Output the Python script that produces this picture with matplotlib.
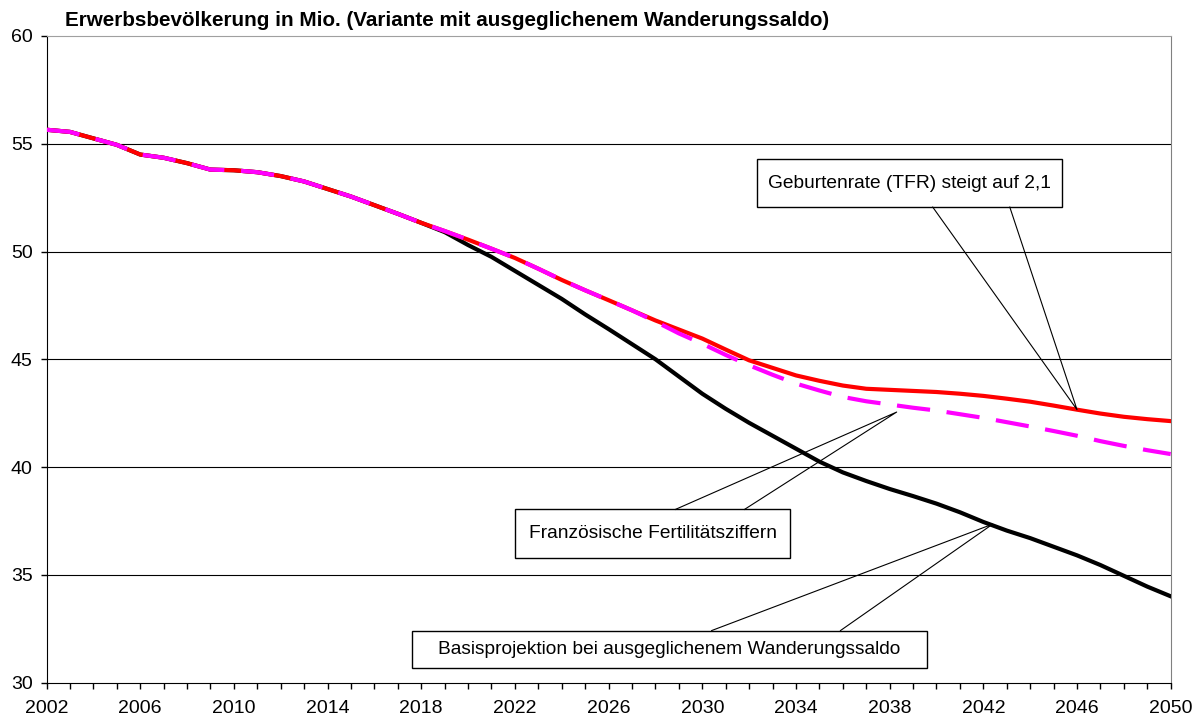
import matplotlib.pyplot as plt
import numpy as np

# Erwerbsbevoelkerung in Mio., 2002-2050
years = np.arange(2002, 2051)

common = [55.65, 55.55, 55.25, 54.95, 54.5, 54.35, 54.1, 53.8, 53.77, 53.68,
          53.5, 53.25, 52.9, 52.55, 52.15, 51.75, 51.33]  # 2002-2018

tfr_rise = common + [50.95, 50.55, 50.13, 49.7, 49.2, 48.68, 48.2, 47.74, 47.27,
                     46.8, 46.38, 45.96, 45.45, 44.95, 44.6, 44.25, 44.0, 43.78,
                     43.63, 43.58, 43.53, 43.48, 43.4, 43.3, 43.17, 43.03, 42.85,
                     42.66, 42.48, 42.33, 42.22, 42.13]

french = common + [50.95, 50.55, 50.13, 49.7, 49.2, 48.68, 48.2, 47.74, 47.27,
                   46.75, 46.2, 45.72, 45.2, 44.72, 44.28, 43.87, 43.55, 43.25,
                   43.05, 42.9, 42.75, 42.62, 42.45, 42.28, 42.08, 41.88, 41.67,
                   41.45, 41.2, 40.98, 40.78, 40.6]

basis = common + [50.9, 50.3, 49.75, 49.1, 48.45, 47.8, 47.08, 46.4, 45.7,
                  45.0, 44.2, 43.4, 42.7, 42.05, 41.45, 40.85, 40.25, 39.75,
                  39.35, 38.98, 38.65, 38.3, 37.9, 37.45, 37.05, 36.7, 36.3,
                  35.9, 35.45, 34.95, 34.45, 34.0]

labels = ['Geburtenrate (TFR) steigt auf 2,1',
          'Französische Fertilitätsziffern',
          'Basisprojektion bei ausgeglichenem Wanderungssaldo']

plt.rcParams['font.family'] = ['Liberation Sans', 'DejaVu Sans']

fig = plt.figure(figsize=(12.02, 7.22), dpi=100)
ax = fig.add_axes([46.5 / 1202, 1 - 682.5 / 722, 1124.2 / 1202, 646.5 / 722])

ax.plot(years, basis, color='black', lw=3, zorder=3)
ax.plot(years, tfr_rise, color='#ff0000', lw=3, zorder=4)
ax.plot(years, french, color='#ff00ff', lw=3, dashes=(8, 4),
        dash_capstyle='butt', zorder=5)

ax.set_xlim(2002, 2050)
ax.set_ylim(30, 60)
ax.set_yticks(range(30, 61, 5))
ax.set_xticks(years, minor=True)
ax.set_xticks(range(2002, 2051, 4))
ax.tick_params(axis='both', direction='out', length=4.5, width=1,
               color='black', labelsize=14)
ax.tick_params(axis='x', which='minor', direction='out', length=4.5, width=1)
ax.tick_params(axis='x', pad=8)
ax.tick_params(axis='y', pad=5.5)

for y in range(35, 60, 5):
    ax.axhline(y, color='black', lw=0.8, zorder=1)

ax.spines['left'].set_color('black')
ax.spines['bottom'].set_color('black')
ax.spines['top'].set_color('#a0a0a0')
ax.spines['right'].set_color('#808080')


def callout(text, x0, x1, y0, y1, b0, b1, tip):
    # box with white fill and a wedge made of two lines to the tip
    ax.fill([x0, x1, x1, x0], [y0, y0, y1, y1], facecolor='white',
            edgecolor='black', lw=1, zorder=6)
    ybase = y0 if tip[1] < y0 else y1
    ax.plot([b0, tip[0], b1], [ybase, tip[1], ybase], color='black',
            lw=0.8, zorder=6)
    ax.text((x0 + x1) / 2, (y0 + y1) / 2, text, ha='center', va='center',
            fontsize=13.75, zorder=7)


callout(labels[0], 2032.33, 2045.35, 52.06, 54.29, 2039.84, 2043.13,
        (2046, tfr_rise[2046 - 2002]))
callout(labels[1], 2022.0, 2033.75, 35.80, 38.03, 2028.85, 2031.8,
        (2038.3, french[2038 - 2002] - 0.35))
callout(labels[2], 2017.6, 2039.6, 30.69, 32.41, 2030.4, 2035.9,
        (2042.4, basis[2042 - 2002] - 0.1))

fig.text(65 / 1202, 1 - 20 / 722,
         'Erwerbsbevölkerung in Mio. (Variante mit ausgeglichenem Wanderungssaldo)',
         ha='left', va='center', fontsize=14.9, fontweight='bold')

fig.savefig('out.png', dpi=100)
